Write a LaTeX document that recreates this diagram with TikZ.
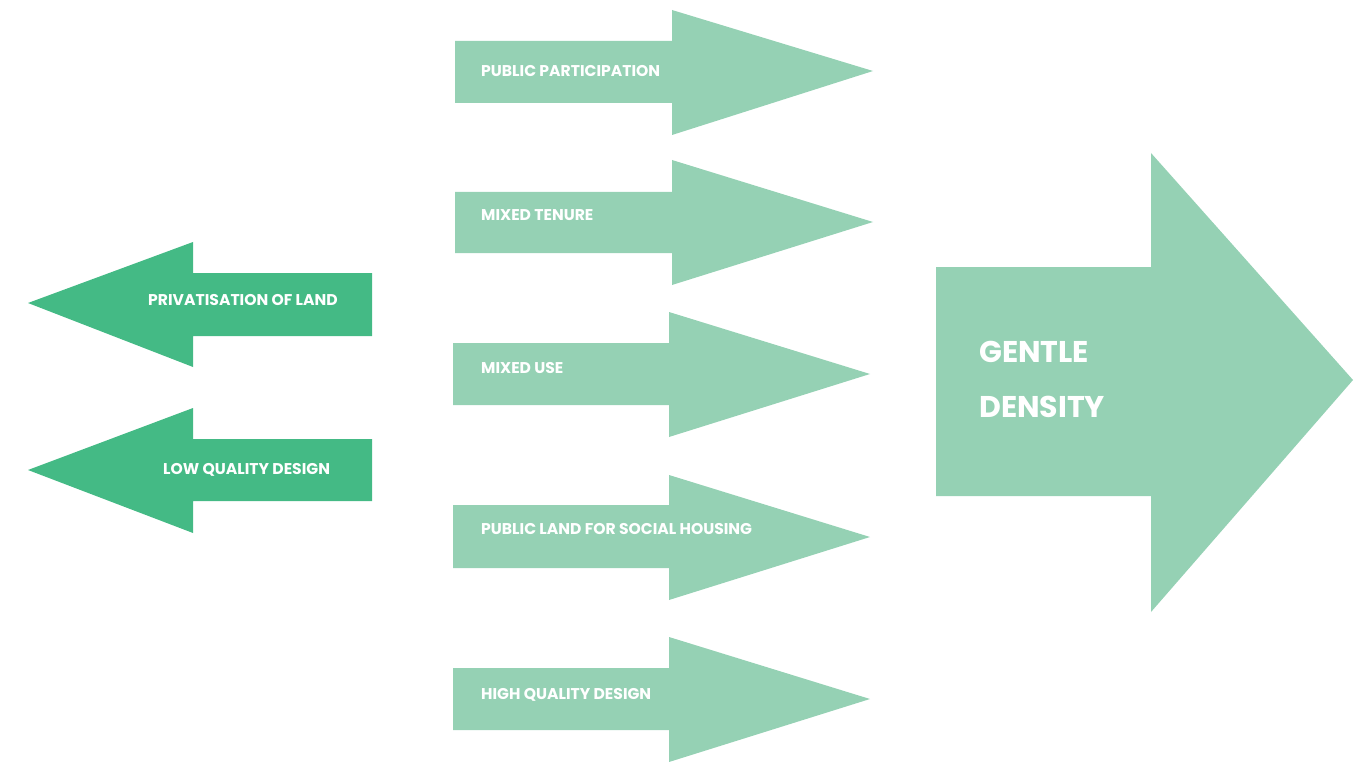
\documentclass[tikz,border=0pt]{standalone}
\usepackage{fontspec}
\setmainfont{Poppins}
\definecolor{lightg}{RGB}{149,209,180}
\definecolor{darkg}{RGB}{68,186,133}
\tikzset{
  x=1pt, y=-1pt,
  lightarrow/.style={fill=lightg},
  darkarrow/.style={fill=darkg},
  lbl/.style={text=white, font=\bfseries\fontsize{15.6}{15.6}\selectfont, anchor=west, inner sep=0pt},
  biglbl/.style={text=white, font=\bfseries\fontsize{30}{30}\selectfont, anchor=west, inner sep=0pt}
}
\begin{document}
\begin{tikzpicture}
\useasboundingbox (0,0) rectangle (1368,762);
% right arrows
\fill[lightarrow] (455,41) -- (672,41) -- (672,10) -- (873,71) -- (672,135) -- (672,103) -- (455,103) -- cycle;
\fill[lightarrow] (455,192) -- (672,192) -- (672,160) -- (873,222) -- (672,285) -- (672,253) -- (455,253) -- cycle;
\fill[lightarrow] (453,343) -- (669,343) -- (669,312) -- (870,374) -- (669,437) -- (669,405) -- (453,405) -- cycle;
\fill[lightarrow] (453,505) -- (669,505) -- (669,475) -- (870,537) -- (669,600) -- (669,568) -- (453,568) -- cycle;
\fill[lightarrow] (453,668) -- (669,668) -- (669,637) -- (870,699) -- (669,762) -- (669,730) -- (453,730) -- cycle;
% left arrows
\fill[darkarrow] (372,273) -- (193,273) -- (193,242) -- (28,303) -- (193,367) -- (193,336) -- (372,336) -- cycle;
\fill[darkarrow] (372,439) -- (193,439) -- (193,408) -- (28,470) -- (193,533) -- (193,501) -- (372,501) -- cycle;
% big arrow
\fill[lightarrow] (936,267) -- (1151,267) -- (1151,153) -- (1353,380) -- (1151,612) -- (1151,496) -- (936,496) -- cycle;
% labels
\node[lbl] (pp) at (481,71) {PUBLIC PARTICIPATION};
\node[lbl] (mt) at (481,215) {MIXED TENURE};
\node[lbl] (mu) at (481,368) {MIXED USE};
\node[lbl] (pl) at (481,529) {PUBLIC LAND FOR SOCIAL HOUSING};
\node[lbl] (hq) at (481,695) {HIGH QUALITY DESIGN};
\node[lbl] (pr) at (148,300) {PRIVATISATION OF LAND};
\node[lbl] (lq) at (163,470) {LOW QUALITY DESIGN};
\node[biglbl] (g1) at (979,352) {GENTLE};
\node[biglbl] (g2) at (979,407) {DENSITY};
\end{tikzpicture}
\end{document}
